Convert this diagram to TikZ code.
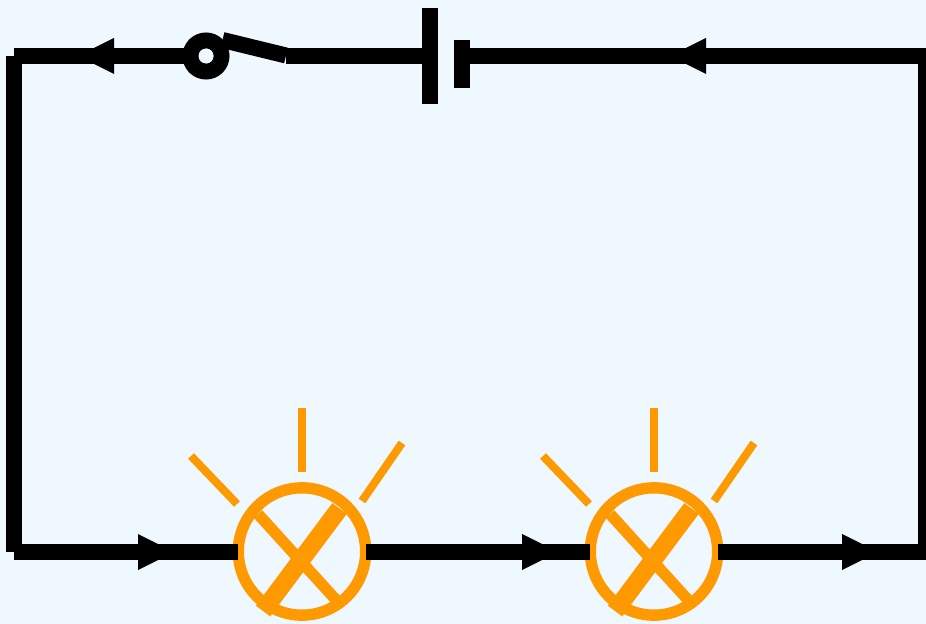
\documentclass[tikz,border=0pt]{standalone}
\usepackage{tikz}
\usepackage{xcolor}
\definecolor{panelblue}{HTML}{EFF7FF}
\definecolor{lampfire}{HTML}{FF9900}
\tikzset{
  wire/.style={line width=12pt,black},
  plate/.style={line width=12pt,black},
  tip/.style={fill=black},
  lamp/.style={circle,draw=lampfire,line width=8.5pt,minimum size=95.5pt,inner sep=0pt},
  thinbar/.style={line width=8.5pt,lampfire},
  fatbar/.style={line width=13.5pt,lampfire},
  ray/.style={line width=6pt,lampfire},
}
\begin{document}
\begin{tikzpicture}[x=0.75pt,y=0.75pt,yscale=-1,xscale=1]
\fill [panelblue] (0,0) rectangle (926,624);
\useasboundingbox (0,0) rectangle (926,624);

% corners and ends of the wires
\coordinate (topleft) at (14,56);
\coordinate (botleft) at (14,552);
\coordinate (topright) at (926,56);
\coordinate (botright) at (926,552);
\coordinate (lampAleft) at (238,552);
\coordinate (lampAright) at (366,552);
\coordinate (lampBleft) at (590,552);
\coordinate (lampBright) at (718,552);
\coordinate (pivot) at (206,56);
\coordinate (leverend) at (286,56);
\coordinate (cellneg) at (430,56);
\coordinate (cellpos) at (462,56);

%Lamp A
\node [lamp] (lampA) at (302,551.5) {};
\draw [thinbar] (258,514) -- (337,601);
\draw [fatbar] (339.5,508.5) -- (263,611);
\draw [ray] (302,408) -- (302,472);
\draw [ray] (191,456) -- (237,504);
\draw [ray] (402,443) -- (362,501);

%Lamp B
\node [lamp] (lampB) at (654,551.5) {};
\draw [thinbar] (610,514) -- (689,601);
\draw [fatbar] (691.5,508.5) -- (615,611);
\draw [ray] (654,408) -- (654,472);
\draw [ray] (543,456) -- (589,504);
\draw [ray] (754,443) -- (714,501);

%Wires
\draw [wire] (topleft) -- (pivot);
\draw [wire] (topleft) -- (botleft);
\draw [wire] (botleft) -- (lampAleft);
\draw [wire] (lampAright) -- (lampBleft);
\draw [wire] (lampBright) -- (botright);
\draw [wire] (botright) -- (topright);
\draw [wire] (topright) -- (cellpos);
\draw [wire] (leverend) -- (cellneg);

%Switch
\draw [wire] (pivot) circle [radius=15.5];
\fill [panelblue] (pivot) circle [radius=7.5];
\draw [wire] (222.5,40) -- (286,55.5);

%Cell
\draw [plate] (430,8) -- (430,104);
\draw [plate] (462,40) -- (462,88);

%Arrow heads
\fill [tip] (114,38) -- (114,74) -- (78,56) -- cycle;
\fill [tip] (706,38) -- (706,74) -- (670,56) -- cycle;
\fill [tip] (138,534) -- (138,570) -- (174,552) -- cycle;
\fill [tip] (522,534) -- (522,570) -- (558,552) -- cycle;
\fill [tip] (842,534) -- (842,570) -- (878,552) -- cycle;

\end{tikzpicture}
\end{document}
